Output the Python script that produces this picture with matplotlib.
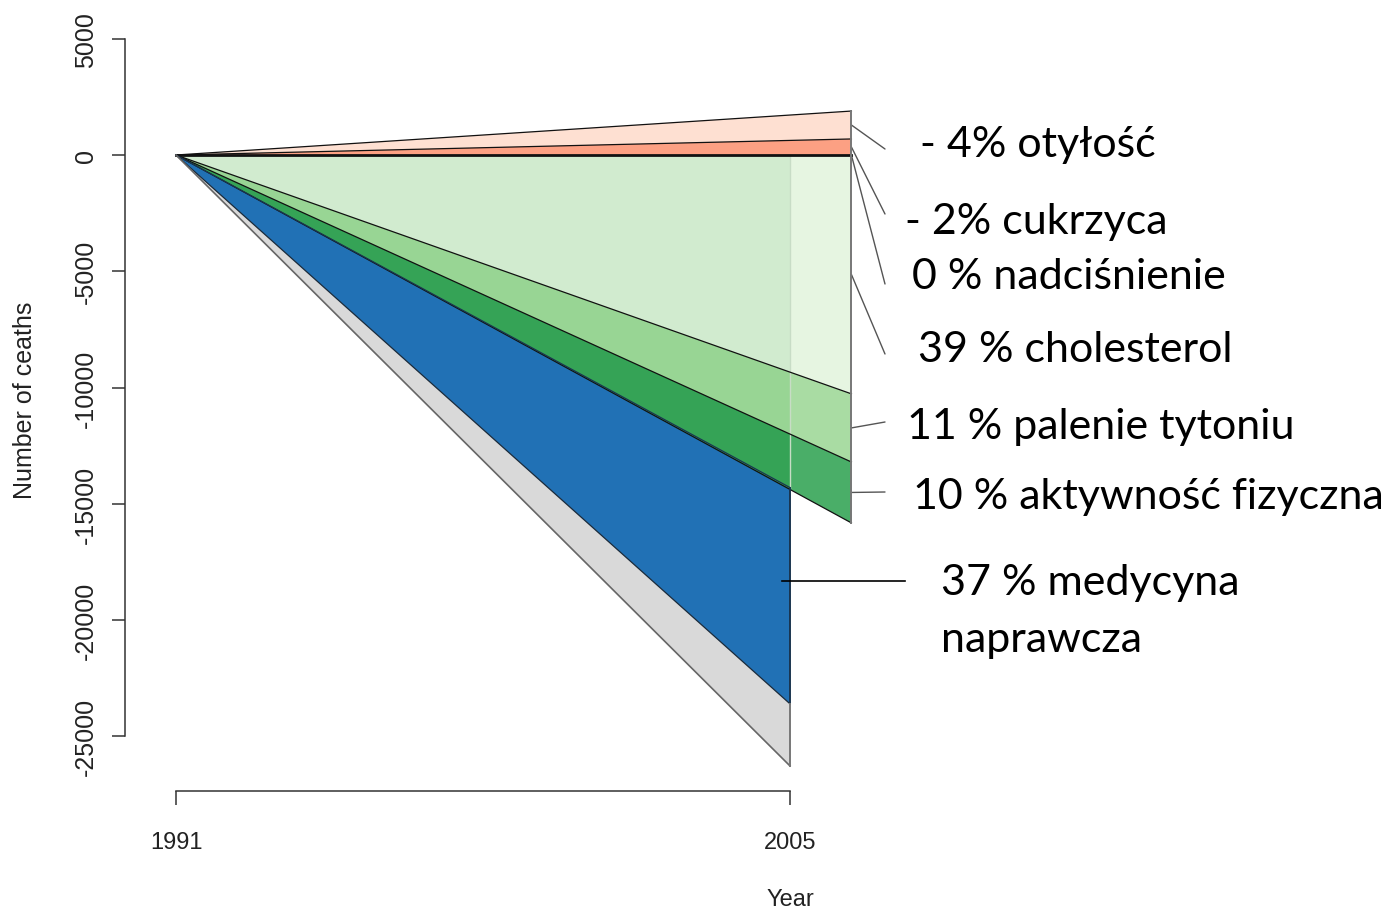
import numpy as np
import matplotlib as mpl
import matplotlib.pyplot as plt
from matplotlib.patches import Rectangle

mpl.rcParams['font.family'] = ['Liberation Sans', 'DejaVu Sans']

# Data: deaths prevented / added, 1991 -> 2005
year_start = 1991
year_end = 2005
year_bar = 2006.4          # risk factor wedges reach a bit past 2005

# risk factor layers, boundaries at year_bar (lower, upper)
risk_names = ['otyłość', 'cukrzyca', 'nadciśnienie', 'cholesterol', 'palenie tytoniu', 'aktywność fizyczna']
risk_lower = [690, 0, 0, -10270, -13200, -15820]
risk_upper = [1890, 690, 0, 0, -10270, -13200]
risk_pct = ['- 4%', '- 2%', '0 %', '39 %', '11 %', '10 %']

# treatment and unexplained layers, boundaries at 2005
treat_upper = -14300
treat_lower = -23600
unexpl_lower = -26270

yticks = [5000, 0, -5000, -10000, -15000, -20000, -25000]

if __name__ == '__main__':

    fig = plt.figure(figsize=(13.89, 9.12), dpi=100)
    W, H = 1389., 912.
    ax = fig.add_axes([140 / W, 137 / H, (W - 140) / W, 755 / H])
    ax.set_xlim(1990.179, 2018.658)
    ax.set_ylim(-26616, 5848)

    # colours
    c_right = ['#fee0d2', '#fca083', '#fca083', '#e6f5e1', '#a9dca3', '#4aae68']
    c_left = ['#fee0d2', '#fca083', '#fca083', '#d1ebcf', '#98d594', '#35a356']

    # unexplained + treatment (to 2005)
    ax.fill([year_start, year_end, year_end], [0, treat_lower, unexpl_lower],
            color='#d9d9d9', lw=0, zorder=1)
    ax.fill([year_start, year_end, year_end], [0, treat_upper, treat_lower],
            color='#2171b5', lw=0, zorder=2)

    # risk factor wedges (to year_bar), lighter past 2005
    clip = Rectangle((1980, -40000), year_end - 1980, 60000, transform=ax.transData)
    for lo, up, cr, cl in zip(risk_lower, risk_upper, c_right, c_left):
        ax.fill([year_start, year_bar, year_bar], [0, up, lo], color=cr, lw=0, zorder=3)
        p, = ax.fill([year_start, year_bar, year_bar], [0, up, lo], color=cl, lw=0, zorder=4)
        p.set_clip_path(clip)

    # faint edge of the darker part
    ax.plot([year_end, year_end], [0, treat_upper], color='#c8dcc6', lw=1.0, zorder=4.5)

    # boundary lines
    for v in sorted(set(risk_lower + risk_upper)):
        lw = 2.0 if v == 0 else 0.9
        ax.plot([year_start, year_bar], [0, v], color='#111111', lw=lw, zorder=6)
    ax.plot([year_start, year_end], [0, treat_upper], color='#1a3550', lw=0.9, zorder=6)
    ax.plot([year_start, year_end], [0, treat_lower], color='#1a2a3a', lw=0.9, zorder=6)
    ax.plot([year_start, year_end], [0, unexpl_lower], color='#666666', lw=1.2, zorder=6)
    ax.plot([year_bar, year_bar], [max(risk_upper), min(risk_lower)], color='#777777', lw=1.4, zorder=6)
    ax.plot([year_end, year_end], [treat_upper, treat_lower], color='#1a3550', lw=1.4, zorder=6)
    ax.plot([year_end, year_end], [treat_lower, unexpl_lower], color='#777777', lw=1.4, zorder=6)

    # axes R style
    for s in ['top', 'right']:
        ax.spines[s].set_visible(False)
    ax.spines['left'].set_position(('outward', 10.8))
    ax.spines['bottom'].set_position(('outward', 12.2))
    ax.spines['left'].set_bounds(yticks[-1], yticks[0])
    ax.spines['bottom'].set_bounds(year_start, year_end)
    for s in ['left', 'bottom']:
        ax.spines[s].set_color('#333333')
        ax.spines[s].set_linewidth(1.1)
    ax.set_yticks(yticks)
    ax.set_yticklabels([str(t) for t in yticks], rotation=90, va='center', fontsize=18, color='#222222')
    ax.set_xticks([year_start, year_end])
    ax.set_xticklabels([str(year_start), str(year_end)], fontsize=17, color='#222222')
    ax.tick_params(axis='y', length=9.4, width=1.1, color='#333333', pad=10)
    ax.tick_params(axis='x', length=10, width=1.1, color='#333333', pad=19)
    ax.patch.set_visible(False)

    fig.text(25 / W, 1 - 400 / H, 'Number of ceaths', rotation=90, ha='center', va='center', fontsize=18, color='#222222')
    fig.text(790 / W, 1 - 900 / H, 'Year', ha='center', va='center', fontsize=17, color='#222222')

    # leader lines + labels
    ends = [150, 215, 285, 355, 423, 493]
    txt_pos = [(920, 145), (905, 222), (912, 277), (918, 350), (907, 427), (913, 497)]
    for lo, up, e, (tx, ty), pc, nm in zip(risk_lower, risk_upper, ends, txt_pos, risk_pct, risk_names):
        ax.annotate('', xy=(year_bar, (lo + up) / 2.), xycoords='data',
                    xytext=(885, H - e), textcoords='figure pixels',
                    arrowprops=dict(arrowstyle='-', color='#555555', lw=1.0, shrinkA=0, shrinkB=0),
                    annotation_clip=False)
        fig.text(tx / W, 1 - ty / H, pc + ' ' + nm, ha='left', va='center',
                 fontsize=31, family=['Lato', 'DejaVu Sans'], color='#000000')
    fig.add_artist(plt.Line2D([782 / W, 905 / W], [1 - 582 / H, 1 - 582 / H], color='#000000', lw=1.2))
    fig.text(941 / W, 1 - 583 / H, '37 % medycyna', ha='left', va='center',
             fontsize=31, family=['Lato', 'DejaVu Sans'])
    fig.text(941 / W, 1 - 640 / H, 'naprawcza', ha='left', va='center',
             fontsize=31, family=['Lato', 'DejaVu Sans'])

    fig.savefig('out.png', dpi=100)
    plt.close()
